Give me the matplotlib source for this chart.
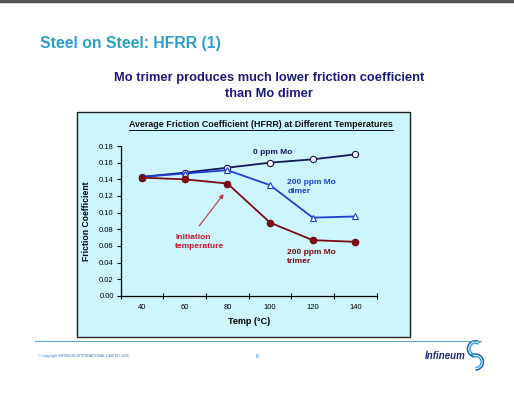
import numpy as np
import matplotlib as mpl
mpl.use("Agg")
import matplotlib.pyplot as plt
from matplotlib.patches import Rectangle, Arc
from matplotlib.lines import Line2D

plt.rcParams['font.family'] = ['Liberation Sans', 'DejaVu Sans']

temps = [40, 60, 80, 100, 120, 140]
mo0 = [0.143, 0.148, 0.154, 0.160, 0.164, 0.170]
dimer = [0.143, 0.147, 0.151, 0.133, 0.094, 0.0955]
trimer = [0.142, 0.140, 0.135, 0.088, 0.067, 0.065]
yticks = np.arange(0, 0.181, 0.02)

navy = "#16165e"
blue = "#1f3fd2"
dred = "#7a0a14"
red = "#c8142e"

fig = plt.figure(figsize=(5.14, 4.0), dpi=100)
fig.patch.set_facecolor("white")

# top border
fig.add_artist(Line2D([0, 1], [0.997, 0.997], color="#555555", lw=2.5))

fig.text(0.078, 0.892, "Steel on Steel: HFRR (1)", color="#2b9fc9",
         fontsize=11.3, fontweight="bold", va="center", ha="left")
fig.text(0.523, 0.785, "Mo trimer produces much lower friction coefficient\nthan Mo dimer",
         color="#1a1a7a", fontsize=9.3, fontweight="bold", va="center", ha="center",
         linespacing=1.35)

# chart panel
fig.add_artist(Rectangle((0.150, 0.158), 0.648, 0.562, transform=fig.transFigure,
                         facecolor="#ccf6fb", edgecolor="#222222", lw=1.0, zorder=0))
ct = fig.text(0.508, 0.688, "Average Friction Coefficient (HFRR) at Different Temperatures",
              color="#111111", fontsize=6.4, fontweight="bold", va="center", ha="center")

ax = fig.add_axes([0.235, 0.26, 0.498, 0.375])
ax.patch.set_alpha(0)
ax.plot(temps, mo0, color=navy, lw=1.3, marker="o", ms=4.5, mfc="white", mec=navy, mew=0.8, zorder=3)
ax.plot(temps, dimer, color=blue, lw=1.3, marker="^", ms=4.5, mfc="white", mec=blue, mew=0.8, zorder=4)
ax.plot(temps, trimer, color=dred, lw=1.3, marker="o", ms=4.5, mfc=dred, mec=dred, zorder=5)

ax.set_xlim(30, 150)
ax.set_ylim(0, 0.18)
ax.set_yticks(yticks)
ax.set_yticklabels(["%.2f" % v for v in yticks])
ax.set_xticks(np.arange(30, 151, 20))
ax.set_xticklabels([])
ax.set_xticks(temps, minor=True)
ax.set_xticklabels([str(t) for t in temps], minor=True)
ax.tick_params(axis="x", which="minor", length=0, labelsize=5.5, pad=6)
ax.tick_params(axis="x", which="major", direction="inout", length=4, width=0.8)
ax.tick_params(axis="y", direction="out", length=3, width=0.8, labelsize=5.5, pad=2)
for s in ["top", "right"]:
    ax.spines[s].set_visible(False)
for s in ["left", "bottom"]:
    ax.spines[s].set_linewidth(0.9)
ax.set_xlabel("Temp (°C)", fontsize=6.5, fontweight="bold", labelpad=4)
ax.set_ylabel("Friction Coefficient", fontsize=6.2, fontweight="bold", labelpad=6)

ax.text(92, 0.1716, "0 ppm Mo", color=navy, fontsize=6, fontweight="bold", va="center")
ax.text(108, 0.1305, "200 ppm Mo\ndimer", color=blue, fontsize=6, fontweight="bold",
        va="center", linespacing=1.35)
ax.text(108, 0.0465, "200 ppm Mo\ntrimer", color=dred, fontsize=6, fontweight="bold",
        va="center", linespacing=1.35)
ax.text(55.5, 0.0648, "Initiation\ntemperature", color=red, fontsize=6, fontweight="bold",
        va="center", linespacing=1.35)
ax.annotate("", xy=(79, 0.125), xytext=(66, 0.0815),
            arrowprops=dict(arrowstyle="-|>", color="#c83040", lw=0.8, mutation_scale=6))

# underline chart title
fig.canvas.draw()
bb = ct.get_window_extent().transformed(fig.transFigure.inverted())
fig.add_artist(Line2D([bb.x0, bb.x1], [bb.y0 - 0.002, bb.y0 - 0.002], color="#111111", lw=0.7))

# footer
fig.add_artist(Line2D([0.068, 0.935], [0.148, 0.148], color="#5fa8c8", lw=0.8))
fig.text(0.074, 0.110, "© Copyright INFINEUM INTERNATIONAL LIMITED 2009", color="#3a7ab8",
         fontsize=2.6, va="center")
fig.text(0.498, 0.110, "6", color="#3a7ab8", fontsize=4, va="center")
fig.text(0.826, 0.110, "Infineum", color="#1a2a7a", fontsize=7, fontweight="bold",
         style="italic", va="center")
for r, c in [(0.020, "#1a5fb0"), (0.014, "#39a7d8")]:
    fig.add_artist(Arc((0.925, 0.128), r * 2 * 400 / 514, r * 2, theta1=60, theta2=270,
                       transform=fig.transFigure, color=c, lw=1.1))
    fig.add_artist(Arc((0.925, 0.095), r * 2 * 400 / 514, r * 2, theta1=-90, theta2=120,
                       transform=fig.transFigure, color=c, lw=1.1))

fig.savefig("out.png", dpi=100)
